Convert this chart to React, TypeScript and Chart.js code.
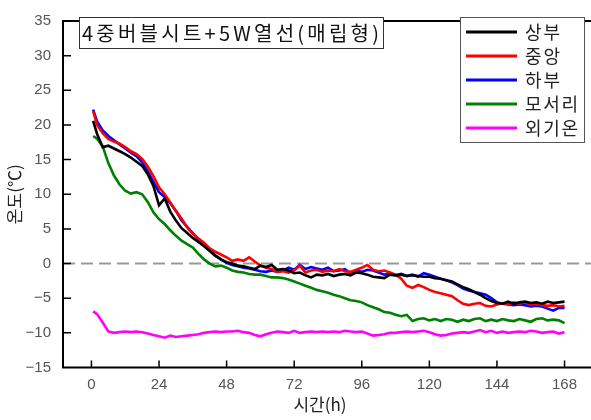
import { useEffect, useRef } from 'react';
import { Chart, registerables } from 'chart.js';

Chart.register(...registerables);

const hours = [0.6, 2, 4, 6, 8, 10, 12, 14, 16, 18, 20, 22, 24, 26, 28, 30, 32, 34, 36, 38, 40, 42, 44, 46, 48, 50, 52, 54, 56, 58, 60, 62, 64, 66, 68, 70, 72, 74, 76, 78, 80, 82, 84, 86, 88, 90, 92, 94, 96, 98, 100, 102, 104, 106, 108, 110, 112, 114, 116, 118, 120, 122, 124, 126, 128, 130, 132, 134, 136, 138, 140, 142, 144, 146, 148, 150, 152, 154, 156, 158, 160, 162, 164, 166, 168];

const seriesNames = ['상부', '중앙', '하부', '모서리', '외기온'];
const seriesColors = ['#000000', '#ff0000', '#0000ff', '#008000', '#ff00ff'];

const topTemp = [20.6, 18.7, 16.8, 17.0, 16.6, 16.2, 15.8, 15.3, 14.7, 14.1,
  12.9, 11.2, 8.4, 9.4, 7.5, 6.2, 5.1, 4.4, 3.7, 3.1,
  2.5, 1.8, 1.1, 0.6, 0.2, 0.0, -0.3, -0.4, -0.6, -0.8,
  -0.3, -0.5, -0.2, -0.9, -0.8, -1.0, -1.4, -1.3, -1.7, -2.0,
  -1.6, -1.7, -1.5, -1.8, -1.6, -1.5, -1.7, -1.3, -1.4, -1.6,
  -1.9, -2.0, -2.1, -1.6, -1.7, -1.6, -1.8, -1.7, -1.8, -1.9,
  -1.9, -2.1, -2.2, -2.4, -2.6, -3.0, -3.4, -3.7, -4.1, -4.5,
  -5.0, -5.4, -5.7, -5.8, -5.5, -5.8, -5.6, -5.5, -5.7, -5.6,
  -5.8, -5.5, -5.7, -5.6, -5.5];

const midTemp = [22.0, 20.0, 18.8, 18.0, 17.6, 17.3, 16.8, 16.2, 15.8, 15.1,
  14.0, 12.6, 11.0, 10.0, 8.8, 7.6, 6.5, 5.2, 4.3, 3.6,
  3.0, 2.2, 1.7, 1.3, 0.9, 0.4, 0.6, 0.4, 0.9, 0.3,
  -0.3, -0.6, -0.8, -1.2, -1.1, -1.3, -1.0, -0.3, -1.3, -1.0,
  -0.9, -1.2, -1.0, -1.1, -0.8, -1.1, -1.2, -0.9, -0.6, -0.2,
  -0.9, -1.1, -1.0, -1.3, -1.6, -2.2, -3.2, -3.5, -3.1, -3.4,
  -3.8, -4.1, -4.3, -4.5, -4.7, -5.3, -5.8, -6.0, -5.8, -5.7,
  -6.1, -6.2, -5.9, -5.7, -5.9, -5.6, -5.8, -5.6, -5.9, -5.8,
  -6.0, -6.1, -6.0, -6.2, -6.1];

const bottomTemp = [22.2, 20.5, 19.2, 18.4, 17.8, 17.2, 16.6, 16.0, 15.5, 14.6,
  13.3, 11.8, 10.3, 9.6, 8.7, 7.6, 6.2, 5.3, 4.4, 3.5,
  2.6, 1.9, 1.2, 0.6, 0.1, -0.2, -0.4, -0.6, -0.7, -0.9,
  -1.1, -1.2, -1.0, -1.2, -1.0, -0.6, -0.9, -0.2, -0.8, -0.5,
  -0.7, -0.9, -0.6, -1.1, -1.0, -0.8, -1.4, -1.0, -1.2, -0.9,
  -1.0, -1.3, -1.6, -1.4, -1.7, -1.5, -1.8, -1.6, -1.9, -1.4,
  -1.6, -1.9, -2.2, -2.4, -2.7, -3.1, -3.6, -3.9, -4.1, -4.3,
  -4.5, -5.0, -5.6, -5.8, -5.9, -6.0, -5.9, -6.0, -6.2, -6.1,
  -6.2, -6.5, -6.8, -6.4, -6.4];

const cornerTemp = [18.4, 18.0, 16.9, 14.5, 12.7, 11.4, 10.5, 10.1, 10.3, 10.0,
  8.9, 7.4, 6.4, 5.7, 4.8, 4.0, 3.3, 2.8, 2.3, 1.4,
  0.6, 0.0, -0.4, -0.3, -0.6, -1.0, -1.2, -1.3, -1.5, -1.6,
  -1.6, -1.8, -2.0, -2.0, -2.1, -2.3, -2.6, -2.9, -3.2, -3.5,
  -3.8, -4.0, -4.2, -4.5, -4.7, -5.0, -5.3, -5.4, -5.6, -6.0,
  -6.3, -6.6, -7.0, -7.1, -7.4, -7.6, -7.4, -8.3, -8.0, -7.9,
  -8.2, -8.0, -8.3, -8.0, -8.1, -8.4, -8.1, -8.3, -8.0, -7.9,
  -8.3, -8.1, -8.3, -8.0, -8.2, -8.3, -8.0, -8.2, -8.4, -8.0,
  -7.9, -8.2, -8.1, -8.2, -8.6];

const outdoorTemp = [-6.9, -7.3, -8.5, -9.8, -10.0, -9.9, -9.8, -9.9, -9.8, -9.9,
  -10.1, -10.3, -10.5, -10.7, -10.4, -10.6, -10.5, -10.4, -10.3, -10.2,
  -10.0, -9.9, -9.8, -9.9, -9.8, -9.8, -9.7, -9.9, -10.0, -10.3,
  -10.5, -10.2, -10.0, -9.8, -9.9, -10.0, -9.7, -10.0, -9.9, -9.8,
  -9.9, -9.8, -9.9, -9.8, -9.9, -9.7, -9.8, -9.9, -9.8, -10.1,
  -10.4, -10.3, -10.2, -10.0, -10.0, -9.9, -9.8, -9.9, -9.8, -9.7,
  -9.9, -10.2, -10.4, -10.3, -10.1, -10.0, -9.9, -10.0, -9.8, -9.6,
  -9.9, -9.7, -10.0, -9.8, -10.0, -9.9, -9.8, -9.9, -9.7, -9.8,
  -10.0, -9.9, -9.8, -10.1, -9.9];

const xTicks = [0, 24, 48, 72, 96, 120, 144, 168];
const chartTitle = '4중버블시트+5W열선(매립형)';
const xTitle = '시간(h)';
const yTitle = '온도(℃)';

const KR = '"Noto Sans CJK KR", "Noto Sans", sans-serif';
const NUM = '"Liberation Sans", Arial, sans-serif';

function drawSpaced(ctx: CanvasRenderingContext2D, text: string, x: number, y: number, target: number) {
  const chars = Array.from(text);
  const natural = ctx.measureText(text).width;
  const extra = chars.length > 1 ? (target - natural) / (chars.length - 1) : 0;
  let cx = x;
  for (const c of chars) {
    ctx.fillText(c, cx, y);
    cx += ctx.measureText(c).width + extra;
  }
}

const decor = {
  id: 'decor',
  beforeDatasetsDraw(chart: any) {
    const { ctx, chartArea: a, scales } = chart;
    const y0 = scales.y.getPixelForValue(0);
    ctx.save();
    ctx.strokeStyle = '#999999';
    ctx.lineWidth = 2;
    ctx.setLineDash([12, 6]);
    ctx.beginPath();
    ctx.moveTo(a.left, y0);
    ctx.lineTo(a.right, y0);
    ctx.stroke();
    ctx.restore();
  },
  afterDraw(chart: any) {
    const { ctx, chartArea: a, scales } = chart;
    const xs = scales.x;
    const ys = scales.y;
    ctx.save();
    ctx.strokeStyle = '#000';
    ctx.lineWidth = 2;
    ctx.setLineDash([]);
    ctx.beginPath();
    ctx.moveTo(a.right, a.top);
    ctx.lineTo(a.left, a.top);
    ctx.lineTo(a.left, a.bottom);
    ctx.lineTo(a.right, a.bottom);
    ctx.stroke();
    ctx.lineWidth = 1.5;
    ctx.beginPath();
    for (const t of ys.ticks) {
      const py = ys.getPixelForValue(t.value);
      if (py <= a.top + 1 || py >= a.bottom - 1) continue;
      ctx.moveTo(a.left, py);
      ctx.lineTo(a.left + 8, py);
    }
    for (const t of xs.ticks) {
      const px = xs.getPixelForValue(t.value);
      ctx.moveTo(px, a.bottom);
      ctx.lineTo(px, a.bottom - 7);
    }
    ctx.stroke();

    ctx.fillStyle = '#fff';
    ctx.fillRect(79.5, 17.5, 304, 31);
    ctx.strokeStyle = '#333';
    ctx.lineWidth = 1;
    ctx.strokeRect(79.5, 17.5, 304, 31);
    ctx.fillStyle = '#111';
    ctx.font = `20px ${KR}`;
    ctx.textBaseline = 'middle';
    ctx.textAlign = 'left';
    drawSpaced(ctx, chartTitle, 82, 33.5, 297);

    const lx = 460.5, ly = 17.5, lw = 124, lh = 125;
    ctx.fillStyle = '#fff';
    ctx.fillRect(lx, ly, lw, lh);
    ctx.strokeStyle = '#555';
    ctx.lineWidth = 1;
    ctx.strokeRect(lx, ly, lw, lh);
    ctx.font = `18px ${KR}`;
    chart.data.datasets.forEach((ds: any, i: number) => {
      const ry = 32 + i * 24;
      ctx.strokeStyle = ds.borderColor;
      ctx.lineWidth = 3;
      ctx.beginPath();
      ctx.moveTo(466, ry);
      ctx.lineTo(517, ry);
      ctx.stroke();
      ctx.fillStyle = '#222';
      ctx.textBaseline = 'middle';
      drawSpaced(ctx, ds.label, 525, ry, ds.label.length > 2 ? 53 : 35);
    });

    ctx.fillStyle = '#222';
    ctx.font = `17px ${KR}`;
    ctx.textAlign = 'center';
    ctx.textBaseline = 'middle';
    ctx.fillText(xTitle, 320, 405);
    ctx.translate(15, (a.top + a.bottom) / 2);
    ctx.rotate(-Math.PI / 2);
    ctx.fillText(yTitle, 0, 0);
    ctx.restore();
  },
};

const fmt = (v: number) => (v < 0 ? '\u2212' + Math.abs(v) : String(v));

export default function App() {
  const ref = useRef<HTMLCanvasElement | null>(null);
  useEffect(() => {
    document.body.style.margin = '0';
    const canvas = ref.current;
    if (!canvas) return;
    const allSeries = [topTemp, midTemp, bottomTemp, cornerTemp, outdoorTemp];
    const chart = new Chart(canvas, {
      type: 'line',
      data: {
        datasets: allSeries.map((vals, i) => ({
          label: seriesNames[i],
          data: hours.map((h, j) => ({ x: h, y: vals[j] })),
          borderColor: seriesColors[i],
          backgroundColor: seriesColors[i],
          borderWidth: 2.6,
          pointRadius: 0,
          tension: 0,
          fill: false,
        })),
      },
      options: {
        animation: false,
        responsive: false,
        devicePixelRatio: 1,
        layout: { padding: { top: 13, left: 0, right: 0, bottom: 0 } },
        plugins: { legend: { display: false }, tooltip: { enabled: false }, title: { display: false } },
        scales: {
          x: {
            type: 'linear',
            min: -10.1,
            max: 177.4,
            afterBuildTicks: (s: any) => { s.ticks = xTicks.map((v) => ({ value: v })); },
            afterFit: (s: any) => { s.height = 52.5; },
            grid: { display: false, drawTicks: false, tickLength: 0 },
            border: { display: false },
            ticks: {
              padding: 8,
              color: '#555',
              autoSkip: false,
              maxRotation: 0,
              minRotation: 0,
              font: { family: NUM, size: 15 },
              callback: (v: any) => fmt(Number(v)),
            },
          },
          y: {
            type: 'linear',
            min: -15,
            max: 35,
            afterFit: (s: any) => { s.width = 63; },
            grid: { display: false, drawTicks: false, tickLength: 0 },
            border: { display: false },
            ticks: {
              stepSize: 5,
              padding: 12,
              color: '#555',
              font: { family: NUM, size: 15 },
              callback: (v: any) => fmt(Number(v)),
            },
          },
        },
      },
      plugins: [decor],
    });
    return () => chart.destroy();
  }, []);
  return (
    <div style={{ width: 591, height: 420, background: '#fff' }}>
      <canvas ref={ref} width={591} height={420} style={{ width: 591, height: 420, display: 'block' }} />
    </div>
  );
}
